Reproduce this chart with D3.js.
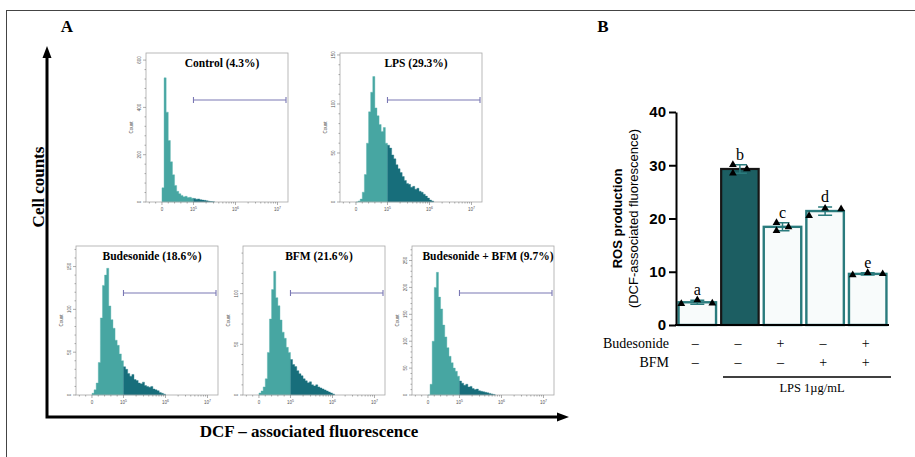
<!DOCTYPE html>
<html>
<head>
<meta charset="utf-8" />
<title>ROS production</title>
<script src="https://d3js.org/d3.v7.min.js"></script>
<style>
  body { margin: 0; background: #fff; }
</style>
</head>
<body>
<script>
// ---------- panel A: flow cytometry histograms ----------
const histTitles = ["Control (4.3%)", "LPS (29.3%)", "Budesonide (18.6%)", "BFM (21.6%)", "Budesonide + BFM (9.7%)"];
const binWidth = 0.05; // display units, 1 unit = 1 decade above 10^5
const controlCounts = [60, 525, 380, 260, 170, 115, 70, 45, 35, 28, 22, 24, 19, 20, 16, 15, 12, 13, 10, 8, 7, 5, 3, 2, 1];
const lpsCounts = [0, 1, 3, 10, 28, 60, 92, 112, 128, 96, 88, 79, 72, 76, 60, 58, 55, 48, 44, 38, 34, 30, 26, 22, 19, 18, 15, 16, 13, 14, 11, 10, 8, 6, 4, 2, 1];
const budCounts = [2, 6, 14, 38, 90, 128, 140, 148, 104, 88, 78, 64, 58, 48, 40, 33, 30, 25, 22, 24, 18, 17, 14, 13, 15, 11, 10, 9, 10, 7, 6, 5, 3, 2, 1];
const bfmCounts = [2, 4, 8, 16, 42, 75, 104, 122, 96, 88, 74, 62, 56, 47, 42, 35, 30, 28, 24, 21, 19, 16, 14, 12, 13, 10, 9, 10, 8, 7, 6, 5, 4, 3, 2, 1];
const budBfmCounts = [0, 20, 100, 200, 228, 182, 160, 130, 108, 88, 72, 60, 50, 44, 35, 26, 22, 18, 20, 15, 16, 12, 10, 11, 8, 7, 6, 5, 4, 3, 2, 1];
const histCounts = [controlCounts, lpsCounts, budCounts, bfmCounts, budBfmCounts];
const histYTicks = [[0, 200, 400, 600], [0, 50, 100, 150], [0, 50, 100, 150], [0, 50, 100], [0, 50, 100, 150, 200, 250]];
const histYMax = [630, 152, 174, 147, 277];
const xTickPos = [0, 0.75, 1.75, 2.75];
const xTickExp = [null, 5, 6, 7];
const gateFrom = 0.75;

// ---------- panel B: ROS bar chart ----------
const groups = ["Control", "LPS", "LPS+Budesonide", "LPS+BFM", "LPS+Budesonide+BFM"];
const letters = ["a", "b", "c", "d", "e"];
const replicates = [[4.0, 4.7, 4.1], [30.1, 28.5, 29.3], [19.2, 17.7, 18.4], [20.5, 21.9, 21.8], [9.4, 9.8, 9.6]];
const budesonideRow = ["\u2013", "\u2013", "+", "\u2013", "+"];
const bfmRow = ["\u2013", "\u2013", "\u2013", "+", "+"];
const rosTicks = [0, 10, 20, 30, 40];

const serif = '"Liberation Serif", "Times New Roman", serif';
const sans = '"Liberation Sans", Arial, sans-serif';
const width = 915, height = 457;
const svg = d3.select("body").append("svg").attr("width", width).attr("height", height)
  .style("font-family", serif);

// outer frame
svg.append("rect").attr("x", 6.5).attr("y", 10.5).attr("width", 1000).attr("height", 1000)
  .attr("fill", "none").attr("stroke", "#444").attr("stroke-width", 1);

svg.append("text").attr("x", 67).attr("y", 32).attr("text-anchor", "middle")
  .attr("font-weight", "bold").attr("font-size", 17).text("A");
svg.append("text").attr("x", 603).attr("y", 32).attr("text-anchor", "middle")
  .attr("font-weight", "bold").attr("font-size", 17).text("B");

// big axes with arrows
svg.append("path").attr("d", "M47,56 V417 H561").attr("fill", "none")
  .attr("stroke", "#000").attr("stroke-width", 3);
svg.append("path").attr("d", "M47,46 L42.5,58 L51.5,58 Z").attr("fill", "#000");
svg.append("path").attr("d", "M569,417 L557,412.5 L557,421.5 Z").attr("fill", "#000");
svg.append("text").attr("transform", "translate(44,187) rotate(-90)").attr("text-anchor", "middle")
  .attr("font-weight", "bold").attr("font-size", 17).text("Cell counts");
svg.append("text").attr("x", 309).attr("y", 437).attr("text-anchor", "middle")
  .attr("font-weight", "bold").attr("font-size", 17).text("DCF \u2013 associated fluorescence");

// histogram panels (layout)
const panelPos = [[146, 53], [340, 53], [76, 246], [243, 246], [412, 246]];
const pw = 142, ph = 149;
const lightTeal = "#47a6a2", darkTeal = "#176e7b";

histCounts.forEach((counts, k) => {
  const g = svg.append("g").attr("transform", `translate(${panelPos[k][0]},${panelPos[k][1]})`);
  const xs = d3.scaleLinear().domain([-0.38, 3.0]).range([0, pw]);
  const ys = d3.scaleLinear().domain([0, histYMax[k]]).range([ph, 0]);

  const bins = counts.map((c, i) => ({ u: i * binWidth, c }));
  const cut = Math.round(gateFrom / binWidth);
  const light = bins.slice(0, cut).concat([{ u: gateFrom, c: 0 }]);
  const dark = bins.slice(cut).concat([{ u: bins.length * binWidth, c: 0 }]);
  const area = d3.area().curve(d3.curveStepAfter)
    .x(d => xs(d.u)).y0(ys(0)).y1(d => ys(d.c));
  g.append("path").datum(light).attr("d", area).attr("fill", lightTeal)
    .attr("stroke", "#5bb5b0").attr("stroke-width", 0.4);
  g.append("path").datum(dark).attr("d", area).attr("fill", darkTeal)
    .attr("stroke", "#2a7f8a").attr("stroke-width", 0.4);

  g.append("rect").attr("width", pw).attr("height", ph).attr("fill", "none")
    .attr("stroke", "#a8a8a8").attr("stroke-width", 0.8);

  // gate marker
  const gy = 47, gx1 = xs(gateFrom), gx2 = pw - 2;
  g.append("path").attr("d", `M${gx1},${gy} H${gx2} M${gx1},${gy - 3} V${gy + 3} M${gx2},${gy - 3} V${gy + 3}`)
    .attr("stroke", "#7a78b4").attr("stroke-width", 1.1).attr("fill", "none");

  g.append("text").attr("x", pw / 2 + 5).attr("y", 14).attr("text-anchor", "middle")
    .attr("font-weight", "bold").attr("font-size", 11.5).text(histTitles[k]);

  // y axis ticks
  const yt = histYTicks[k];
  const step = yt[1] - yt[0];
  d3.range(0, histYMax[k], step / 5).forEach(v => {
    const major = Math.abs(v / step - Math.round(v / step)) < 1e-6;
    g.append("line").attr("x1", 0).attr("x2", major ? -3 : -1.5)
      .attr("y1", ys(v)).attr("y2", ys(v)).attr("stroke", "#777").attr("stroke-width", 0.6);
  });
  yt.forEach(v => {
    g.append("text").style("font-family", sans)
      .attr("transform", `translate(-5,${ys(v)}) rotate(-90)`)
      .attr("text-anchor", "middle").attr("font-size", 4.5).attr("fill", "#555").text(v);
  });
  g.append("text").style("font-family", sans)
    .attr("transform", `translate(-13,${ph / 2}) rotate(-90)`)
    .attr("text-anchor", "middle").attr("font-size", 4.5).attr("fill", "#555").text("Count");

  // x axis ticks
  const minor = d3.range(0.15, 0.75, 0.15).concat(d3.range(-0.3, 0, 0.15));
  [0, 1, 2].forEach(dk => d3.range(2, 10).forEach(m => minor.push(0.75 + dk + Math.log10(m))));
  minor.filter(u => xs(u) < pw).forEach(u => {
    g.append("line").attr("x1", xs(u)).attr("x2", xs(u)).attr("y1", ph).attr("y2", ph + 1.5)
      .attr("stroke", "#777").attr("stroke-width", 0.6);
  });
  xTickPos.forEach((u, i) => {
    g.append("line").attr("x1", xs(u)).attr("x2", xs(u)).attr("y1", ph).attr("y2", ph + 3)
      .attr("stroke", "#777").attr("stroke-width", 0.6);
    const t = g.append("text").style("font-family", sans).attr("x", xs(u)).attr("y", ph + 9)
      .attr("text-anchor", "middle").attr("font-size", 4.5).attr("fill", "#555");
    if (xTickExp[i] === null) t.text("0");
    else {
      t.append("tspan").text("10");
      t.append("tspan").attr("dy", -2).attr("font-size", 3.5).text(xTickExp[i]);
    }
  });
});

// ---------- panel B ----------
const y = d3.scaleLinear().domain([0, 40]).range([325, 112]);
const x = d3.scaleBand().domain(groups).range([676, 889]).paddingInner(0.12).paddingOuter(0.06);
const teal = "#2a7b7d";
const stats = replicates.map(r => ({ mean: d3.mean(r), sd: d3.deviation(r) }));

svg.selectAll(".bar").data(groups).join("rect").attr("class", "bar")
  .attr("x", d => x(d)).attr("width", x.bandwidth())
  .attr("y", (d, i) => y(stats[i].mean)).attr("height", (d, i) => y(0) - y(stats[i].mean))
  .attr("fill", (d, i) => i === 1 ? "#1c5e62" : "#f8fbfb")
  .attr("stroke", (d, i) => i === 1 ? "#161616" : teal)
  .attr("stroke-width", (d, i) => i === 1 ? 2.2 : 2.4);

// error bars
groups.forEach((g, i) => {
  const cx = x(g) + x.bandwidth() / 2, s = stats[i];
  const lo = y(s.mean - s.sd), hi = y(s.mean + s.sd);
  svg.append("path").attr("d", `M${cx},${lo} V${hi} M${cx - 7},${hi} H${cx + 7} M${cx - 7},${lo} H${cx + 7}`)
    .attr("stroke", teal).attr("stroke-width", 1.5).attr("fill", "none");
});

// replicate points (horizontal spread as drawn)
const repJitter = [[-16, 0, 15], [-7, -7, 7], [-6, -6, 6], [-16, 0, 16], [-15, 0, 15]];
const tri = d3.symbol(d3.symbolTriangle, 26);
replicates.forEach((r, i) => {
  const cx = x(groups[i]) + x.bandwidth() / 2;
  r.forEach((v, j) => {
    svg.append("path").attr("d", tri).attr("fill", "#000")
      .attr("transform", `translate(${cx + repJitter[i][j]},${y(v)})`);
  });
});

// significance letters
svg.selectAll(".letter").data(groups).join("text").attr("class", "letter")
  .attr("x", d => x(d) + x.bandwidth() / 2)
  .attr("y", (d, i) => y(stats[i].mean + stats[i].sd) - 5)
  .attr("text-anchor", "middle").attr("font-size", 16)
  .text((d, i) => letters[i]);

// axes
const yAxis = d3.axisLeft(y).tickValues(rosTicks).tickSize(7).tickSizeOuter(0).tickPadding(3);
const ya = svg.append("g").attr("transform", "translate(676,0)").call(yAxis);
ya.select(".domain").attr("stroke", "#000").attr("stroke-width", 2);
ya.selectAll(".tick line").attr("stroke", "#000").attr("stroke-width", 2);
ya.selectAll(".tick text").style("font-family", sans)
  .attr("font-weight", "bold").attr("font-size", 15).attr("fill", "#000");
svg.append("line").attr("x1", 675).attr("x2", 889).attr("y1", y(0)).attr("y2", y(0))
  .attr("stroke", "#000").attr("stroke-width", 2);

svg.append("text").style("font-family", sans).attr("transform", `translate(622,${(y(0) + y(40)) / 2}) rotate(-90)`)
  .attr("text-anchor", "middle").attr("font-weight", "bold").attr("font-size", 13).text("ROS production");
svg.append("text").style("font-family", sans).attr("transform", `translate(638,${(y(0) + y(40)) / 2}) rotate(-90)`)
  .attr("text-anchor", "middle").attr("font-size", 13).text("(DCF-associated fluorescence)");

// treatment table
svg.append("text").attr("x", 669).attr("y", 348).attr("text-anchor", "end").attr("font-size", 14).text("Budesonide");
svg.append("text").attr("x", 669).attr("y", 367).attr("text-anchor", "end").attr("font-size", 14).text("BFM");
groups.forEach((g, i) => {
  const cx = x(g) + x.bandwidth() / 2 - 2;
  svg.append("text").attr("x", cx).attr("y", 348).attr("text-anchor", "middle").attr("font-size", 14).text(budesonideRow[i]);
  svg.append("text").attr("x", cx).attr("y", 367).attr("text-anchor", "middle").attr("font-size", 14).text(bfmRow[i]);
});
svg.append("line").attr("x1", 723).attr("x2", 891).attr("y1", 377).attr("y2", 377)
  .attr("stroke", "#000").attr("stroke-width", 1.3);
svg.append("text").attr("x", 812).attr("y", 392).attr("text-anchor", "middle").attr("font-size", 12.5).text("LPS 1\u00b5g/mL");
</script>
</body>
</html>
